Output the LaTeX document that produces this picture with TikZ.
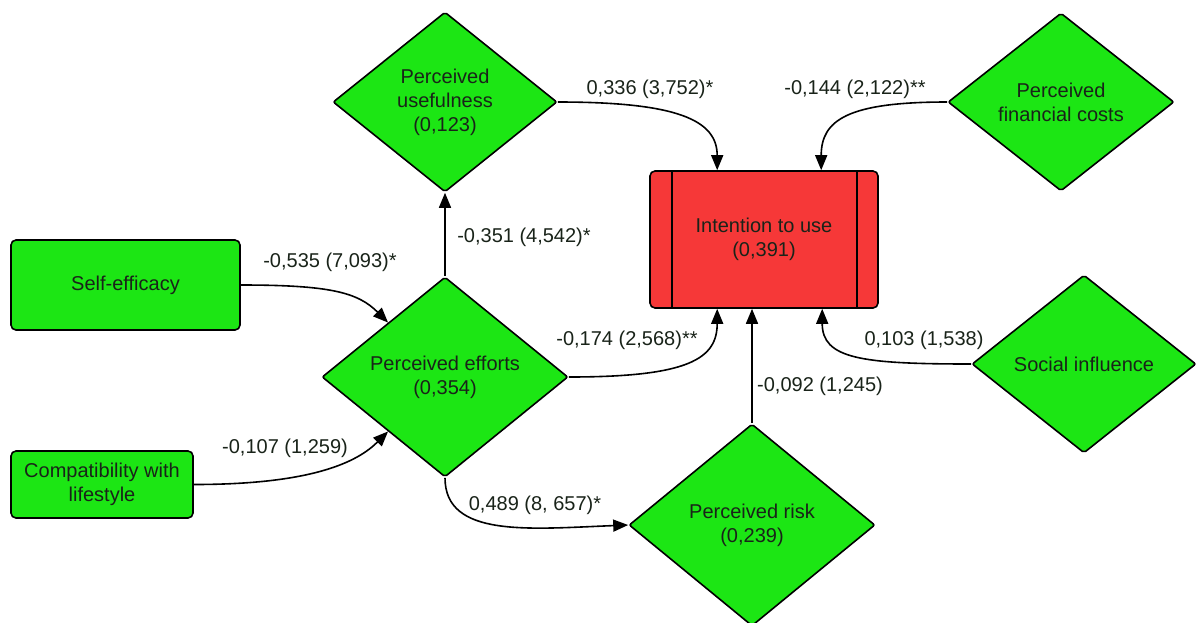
\documentclass[tikz,border=0pt]{standalone}
\usepackage{fontspec}
\setmainfont{Liberation Sans}
\usetikzlibrary{shapes.geometric,arrows.meta,calc}
\definecolor{ngreen}{RGB}{28,230,20}
\definecolor{nred}{RGB}{246,56,56}
\definecolor{ntext}{RGB}{25,35,25}
\begin{document}
\begin{tikzpicture}[x=1pt,y=-1pt,
  every node/.style={font=\fontsize{20}{24}\selectfont, text=ntext},
  dia/.style={diamond, draw=black, line width=1.6pt, fill=ngreen, rounded corners=2pt, inner sep=0pt, align=center},
  box/.style={rectangle, draw=black, line width=1.6pt, fill=ngreen, rounded corners=5pt, align=center, inner sep=0pt},
  conn/.style={line width=1.6pt, -{Triangle[length=15pt,width=12pt]}},
  lbl/.style={inner sep=0pt}
]
\useasboundingbox[fill=white] (0,0) rectangle (1202,622);

\node[box, minimum width=229, minimum height=90] (SE) at (125.5,285) {Self-efficacy};
\node[box, minimum width=182, minimum height=67] (CL) at (102,484.5) {Compatibility with\\lifestyle};
\node[box, fill=nred, minimum width=228, minimum height=137] (IU) at (764,239.5) {Intention to use\\(0,391)};
\draw[line width=1.6pt] ($(IU.north west)+(23,0)$) -- ($(IU.south west)+(23,0)$);
\draw[line width=1.6pt] ($(IU.north east)+(-22,0)$) -- ($(IU.south east)+(-22,0)$);

\node[dia, shape aspect=1.25, minimum width=224, minimum height=180] (PU) at (445,102) {Perceived\\usefulness\\(0,123)};
\node[dia, shape aspect=1.27, minimum width=226, minimum height=178] (PFC) at (1061,102) {Perceived\\financial costs};
\node[dia, shape aspect=1.23, minimum width=246, minimum height=200] (PE) at (445,377) {Perceived efforts\\(0,354)};
\node[dia, shape aspect=1.26, minimum width=224, minimum height=178] (SI) at (1084,364) {Social influence};
\node[dia, shape aspect=1.22, minimum width=246, minimum height=202] (PR) at (752,525) {Perceived risk\\(0,239)};

\draw[conn] (SE.east) .. controls +(90,0) and +(-30,-30) .. ($(PE.west)!0.54!(PE.north)$);
\draw[conn] (CL.east) .. controls +(120,0) and +(-30,30) .. ($(PE.west)!0.54!(PE.south)$);
\draw[conn] (PE.north) -- (PU.south);
\draw[conn] (PU.east) .. controls +(120,0) and +(0,-50) .. ($(IU.north west)+(68,0)$);
\draw[conn] (PFC.west) .. controls +(-100,0) and +(0,-50) .. ($(IU.north west)+(172,0)$);
\draw[conn] (PE.east) .. controls +(120,0) and +(0,50) .. ($(IU.south west)+(68,0)$);
\draw[conn] (PR.north) -- (PR.north |- IU.south);
\draw[conn] (SI.west) .. controls +(-110,0) and +(0,50) .. ($(IU.south west)+(173,0)$);
\draw[conn] (PE.south) .. controls +(0,60) and +(-100,4) .. (PR.west);

\node[lbl] (l1) at (330,262) {-0,535 (7,093)*};
\node[lbl] (l2) at (285,448) {-0,107 (1,259)};
\node[lbl] (l3) at (524,237) {-0,351 (4,542)*};
\node[lbl] (l4) at (650,89) {0,336 (3,752)*};
\node[lbl] (l5) at (855,89) {-0,144 (2,122)**};
\node[lbl] (l6) at (627,340) {-0,174 (2,568)**};
\node[lbl] (l7) at (924,340) {0,103 (1,538)};
\node[lbl] (l8) at (820,386) {-0,092 (1,245)};
\node[lbl] (l9) at (535,505) {0,489 (8, 657)*};
\end{tikzpicture}
\end{document}
